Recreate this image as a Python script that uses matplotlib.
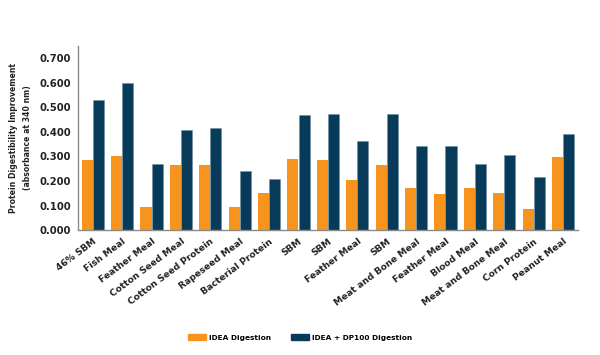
import numpy as np
import matplotlib.pyplot as plt
from matplotlib.patches import Patch

# data
categories = ['46% SBM', 'Fish Meal', 'Feather Meal', 'Cotton Seed Meal',
              'Cotton Seed Protein', 'Rapeseed Meal', 'Bacterial Protein',
              'SBM', 'SBM', 'Feather Meal', 'SBM', 'Meat and Bone Meal',
              'Feather Meal', 'Blood Meal', 'Meat and Bone Meal',
              'Corn Protein', 'Peanut Meal']
idea = [0.284, 0.302, 0.096, 0.267, 0.267, 0.096, 0.150, 0.290, 0.284,
        0.204, 0.267, 0.172, 0.146, 0.172, 0.152, 0.085, 0.296]
idea_dp100 = [0.532, 0.598, 0.271, 0.409, 0.417, 0.241, 0.207, 0.468, 0.474,
              0.365, 0.474, 0.342, 0.342, 0.271, 0.307, 0.217, 0.392]
yticks = [0.0, 0.1, 0.2, 0.3, 0.4, 0.5, 0.6, 0.7]

orange = '#F7941D'
navy = '#083B5A'

fig = plt.figure(figsize=(6.0, 3.55), dpi=100)
ax = fig.add_axes([0.13, 0.352, 0.833, 0.518])

x = np.arange(len(categories))
w = 0.375
ax.bar(x - w / 2, idea, width=w, color=orange, edgecolor='none')
ax.bar(x + w / 2, idea_dp100, width=w, color=navy, edgecolor='#6f8fa3', linewidth=0.4)

ax.set_xlim(-0.5, len(categories) - 0.5)
ax.set_ylim(0, 0.75)
ax.set_yticks(yticks)
ax.set_yticklabels([f'{v:.3f}' for v in yticks], fontsize=7.2, fontweight='bold', color='#222222')
ax.set_xticks(x)
ax.set_xticklabels(categories, rotation=37, ha='right', rotation_mode='anchor',
                   fontsize=6.6, fontweight='bold', color='#222222')
ax.tick_params(axis='y', length=0, pad=5)
ax.tick_params(axis='x', length=0, pad=5)

for s in ['top', 'right']:
    ax.spines[s].set_visible(False)
for s in ['left', 'bottom']:
    ax.spines[s].set_color('#8a8a8a')
    ax.spines[s].set_linewidth(1.0)

ax.set_ylabel('Protein Digestibility Improvement\n(absorbance at 340 nm)',
              fontsize=5.6, fontweight='bold', color='#222222', linespacing=1.6)
ax.yaxis.set_label_coords(-0.093, 0.5)

handles = [Patch(color=orange, label='IDEA Digestion'),
           Patch(color=navy, label='IDEA + DP100 Digestion')]
fig.legend(handles=handles, loc='center', bbox_to_anchor=(0.5, 0.05), ncol=2,
           frameon=False, prop={'size': 5.3, 'weight': 'bold'},
           handlelength=2.45, handleheight=0.9, columnspacing=2.7, handletextpad=0.45)

plt.savefig('out.png', dpi=100)
